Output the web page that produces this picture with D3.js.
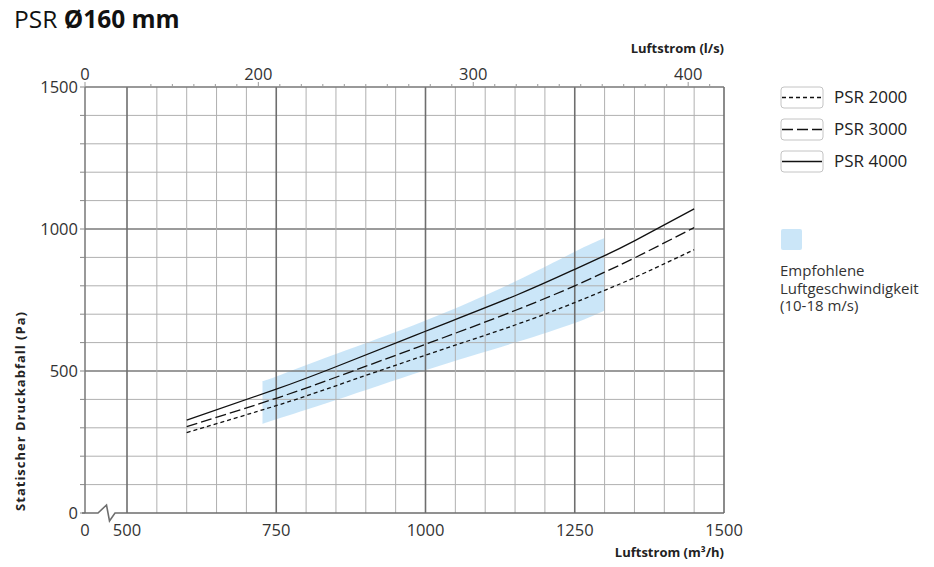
<!DOCTYPE html>
<html><head><meta charset="utf-8">
<script src="https://cdn.jsdelivr.net/npm/d3@7/dist/d3.min.js"></script>
<style>
html,body{margin:0;padding:0;background:#fff;}
svg{display:block;font-family:"Open Sans",sans-serif;}
</style></head>
<body>
<script>
// ---- data ----
const flowX = [600, 750, 850, 1000, 1150, 1250, 1300, 1350, 1450]; // m3/h
const psr4000 = [327, 436, 515, 640, 765, 858, 906, 958, 1071];
const psr3000 = [304, 404, 478, 594, 713, 800, 848, 898, 1005];
const psr2000 = [283, 378, 448, 556, 662, 741, 784, 829, 927];
const bandX    = [727, 750, 850, 1000, 1150, 1250, 1300];
const bandHigh = [465, 481, 560, 678, 815, 920, 968];
const bandLow  = [313, 330, 398, 503, 600, 669, 713];
const bottomTicks = [500, 750, 1000, 1250, 1500];
const topTicks = [200, 300, 400];          // l/s
const leftTicks = [0, 500, 1000, 1500];
const seriesNames = ["PSR 2000", "PSR 3000", "PSR 4000"];
const bandLabel = ["Empfohlene", "Luftgeschwindigkeit", "(10-18 m/s)"];

const W = 934, H = 567;
const plotLeft = 85;
const svg = d3.select("body").append("svg").attr("width", W).attr("height", H);

const x = d3.scaleLinear().domain([500, 1500]).range([127, 724]);
const y = d3.scaleLinear().domain([0, 1500]).range([513, 87]);
const ls = v => x(v * 3.6);

// title
const t = svg.append("text").attr("x", 14).attr("y", 28).attr("font-size", 24.5).attr("fill", "#111");
t.append("tspan").text("PSR ").attr("font-weight", 400);
t.append("tspan").text("Ø160 mm").attr("font-weight", 700);

// band
const bandData = bandX.map((v, i) => ({x: v, lo: bandLow[i], hi: bandHigh[i]}));
svg.append("path").datum(bandData)
  .attr("d", d3.area().x(d => x(d.x)).y0(d => y(d.lo)).y1(d => y(d.hi)).curve(d3.curveNatural))
  .attr("fill", "rgb(140,200,240)").attr("fill-opacity", 0.45);

// grid
const g = svg.append("g");
d3.range(100, 1500, 100).forEach(v => {
  const major = v % 500 === 0;
  g.append("line").attr("x1", plotLeft).attr("x2", x(1500)).attr("y1", y(v)).attr("y2", y(v))
   .attr("stroke", major ? "#7a7a7a" : "#b0b0b0").attr("stroke-width", major ? 1.6 : 1);
});
d3.range(500, 1501, 50).forEach(v => {
  const major = v % 250 === 0;
  g.append("line").attr("x1", x(v)).attr("x2", x(v)).attr("y1", y(0)).attr("y2", y(1500))
   .attr("stroke", major ? "#6e6e6e" : "#b0b0b0").attr("stroke-width", major ? 1.6 : 1);
});

// left axis
g.append("line").attr("x1", plotLeft).attr("x2", plotLeft).attr("y1", y(0)).attr("y2", y(1500))
 .attr("stroke", "#777").attr("stroke-width", 1.5);
d3.range(0, 1501, 100).forEach(v => {
  g.append("line").attr("x1", plotLeft - 5).attr("x2", plotLeft).attr("y1", y(v)).attr("y2", y(v))
   .attr("stroke", "#888").attr("stroke-width", 1);
});
leftTicks.forEach(v => {
  svg.append("text").attr("x", 78).attr("y", y(v)).attr("dy", "0.35em").attr("text-anchor", "end")
    .attr("font-size", 16.5).attr("fill", "#333").text(v);
});

// top axis
g.append("line").attr("x1", plotLeft).attr("x2", x(1500)).attr("y1", y(1500)).attr("y2", y(1500))
 .attr("stroke", "#777").attr("stroke-width", 1.5);
d3.range(150, 420, 10).forEach(v => {
  const major = v % 100 === 0;
  g.append("line").attr("x1", ls(v)).attr("x2", ls(v)).attr("y1", y(1500) - (major ? 5 : 3)).attr("y2", y(1500))
   .attr("stroke", "#999").attr("stroke-width", 1);
});
g.append("line").attr("x1", plotLeft).attr("x2", plotLeft).attr("y1", y(1500) - 5).attr("y2", y(1500))
 .attr("stroke", "#999");
svg.append("text").attr("x", plotLeft).attr("y", 80).attr("text-anchor", "middle")
  .attr("font-size", 16.5).attr("fill", "#333").text("0");
topTicks.forEach(v => {
  svg.append("text").attr("x", ls(v)).attr("y", 80).attr("text-anchor", "middle")
    .attr("font-size", 16.5).attr("fill", "#333").text(v);
});
svg.append("text").attr("x", 724).attr("y", 53).attr("text-anchor", "end")
  .attr("font-size", 13).attr("font-weight", 700).attr("fill", "#222").text("Luftstrom (l/s)");

// bottom axis with break
const y0 = y(0);
svg.append("path")
  .attr("d", `M${plotLeft - 3},${y0} L98,${y0} L106.5,${y0 - 8} L109.5,${y0 + 8} L115,${y0} L${x(1500)},${y0}`)
  .attr("fill", "none").attr("stroke", "#6e6e6e").attr("stroke-width", 1.6);
svg.append("text").attr("x", plotLeft).attr("y", 536).attr("text-anchor", "middle")
  .attr("font-size", 16.5).attr("fill", "#333").text("0");
bottomTicks.forEach(v => {
  svg.append("text").attr("x", x(v)).attr("y", 536).attr("text-anchor", "middle")
    .attr("font-size", 16.5).attr("fill", "#333").text(v);
});
svg.append("text").attr("x", 724).attr("y", 557).attr("text-anchor", "end")
  .attr("font-size", 13).attr("font-weight", 700).attr("fill", "#222").text("Luftstrom (m³/h)");

// y title
svg.append("text").attr("transform", "translate(25,411) rotate(-90)").attr("text-anchor", "middle")
  .attr("font-size", 13).attr("letter-spacing", 1).attr("font-weight", 700).attr("fill", "#222")
  .text("Statischer Druckabfall (Pa)");

// curves
const dashes = ["4,3", "11,4", null];
const seriesVals = [psr2000, psr3000, psr4000];
const line = d3.line().x(d => x(d[0])).y(d => y(d[1])).curve(d3.curveNatural);
seriesVals.forEach((vals, i) => {
  svg.append("path").datum(flowX.map((v, j) => [v, vals[j]]))
    .attr("d", line).attr("fill", "none").attr("stroke", "#111").attr("stroke-width", 1.3)
    .attr("stroke-dasharray", dashes[i]);
});

// legend
const legTop = [87, 119, 151];
seriesNames.forEach((name, i) => {
  const ly = legTop[i];
  svg.append("rect").attr("x", 781).attr("y", ly).attr("width", 42).attr("height", 21).attr("rx", 3)
    .attr("fill", "#fff").attr("stroke", "#c4c4c4").attr("stroke-width", 1);
  svg.append("line").attr("x1", 782).attr("x2", 822).attr("y1", ly + 10.5).attr("y2", ly + 10.5)
    .attr("stroke", "#111").attr("stroke-width", 1.3).attr("stroke-dasharray", dashes[i]);
  svg.append("text").attr("x", 834).attr("y", ly + 10.5).attr("dy", "0.35em")
    .attr("font-size", 17).attr("fill", "#222").text(name);
});
svg.append("rect").attr("x", 781).attr("y", 229).attr("width", 21).attr("height", 21).attr("rx", 2)
  .attr("fill", "rgb(140,200,240)").attr("fill-opacity", 0.45);
const bl = svg.append("text").attr("x", 780).attr("y", 276).attr("font-size", 15).attr("fill", "#333");
bandLabel.forEach((s, i) => {
  bl.append("tspan").attr("x", 780).attr("dy", i === 0 ? 0 : 17.5).text(s);
});
</script>
</body></html>
